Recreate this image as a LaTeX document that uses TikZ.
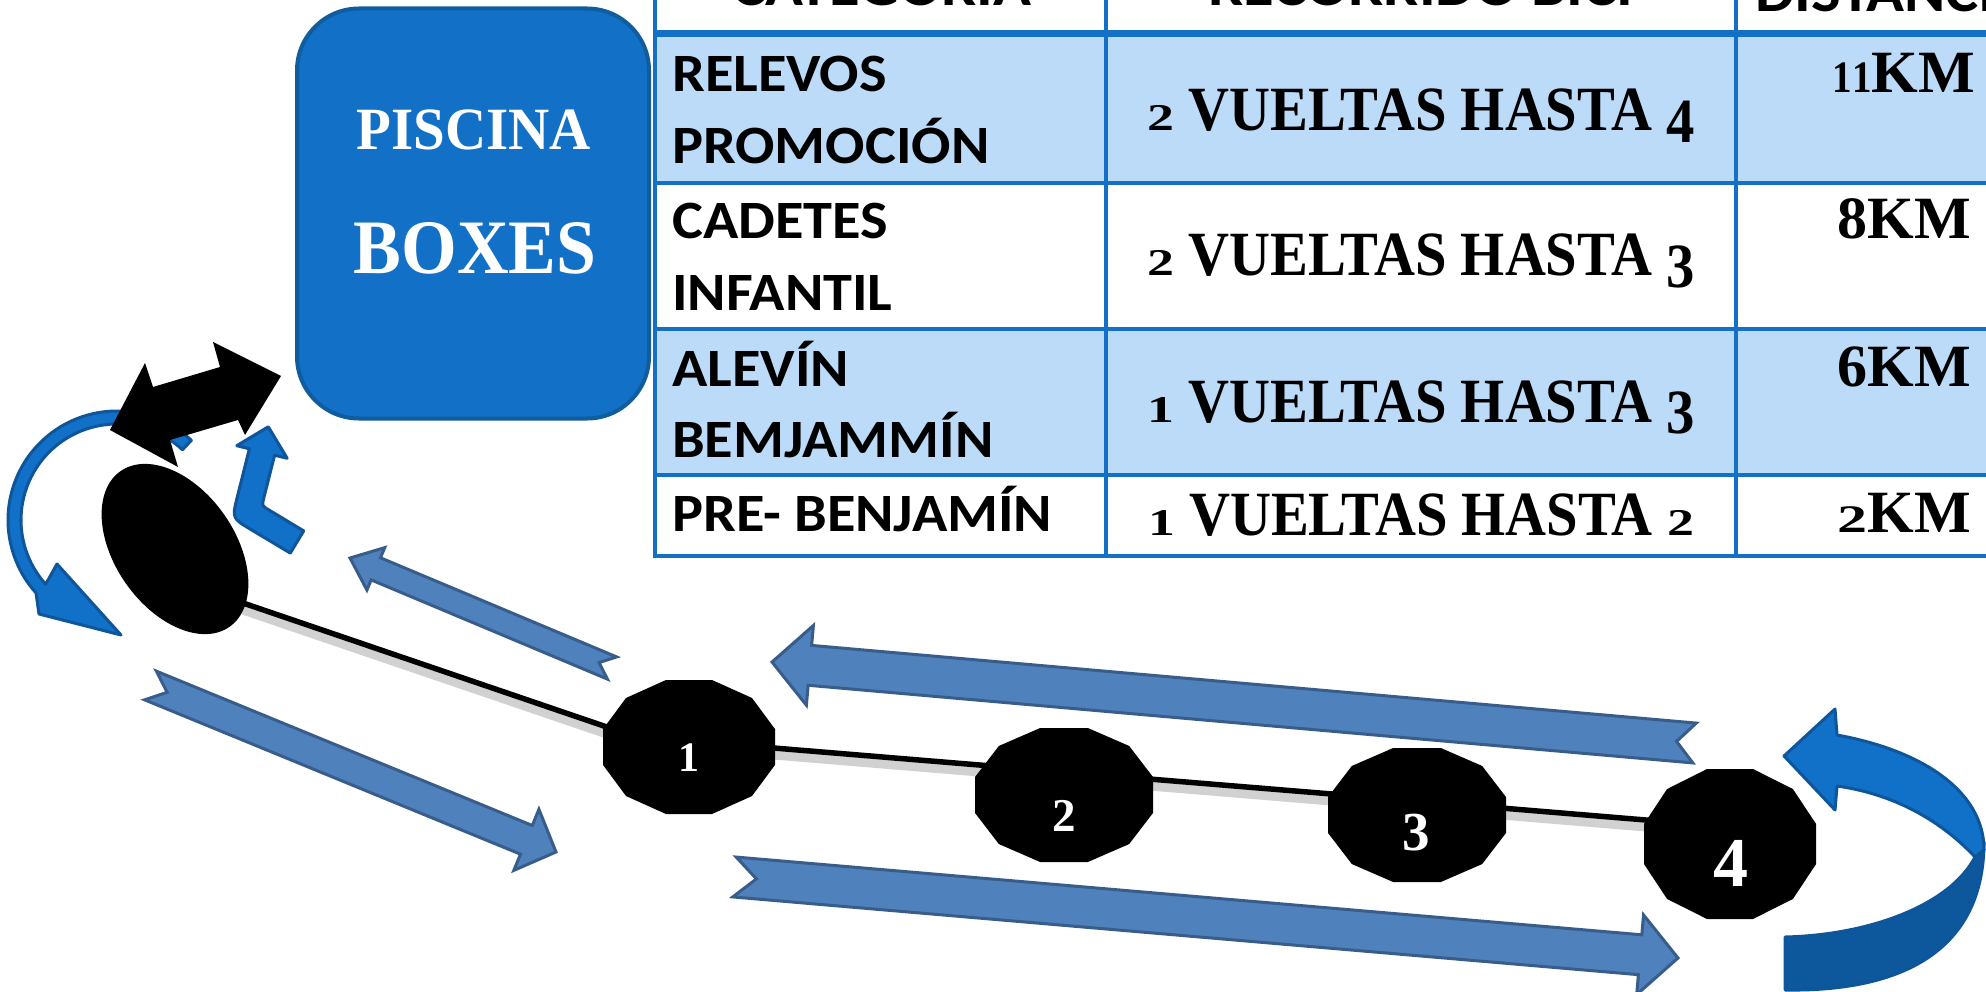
\documentclass[tikz,border=0pt]{standalone}
\usepackage{fontspec}
\usepackage{graphicx}
\usetikzlibrary{shapes.geometric}
\newfontfamily\carl{Carlito}
\newfontfamily\lser{Liberation Serif}
\definecolor{cTable}{HTML}{1370C6}
\definecolor{cLight}{HTML}{BBDBF8}
\definecolor{cBox}{HTML}{1270C6}
\definecolor{cBoxLine}{HTML}{0F5C9E}
\definecolor{cArrFill}{HTML}{4F81BD}
\definecolor{cArrLine}{HTML}{385D8A}
\definecolor{cCurve}{HTML}{1170C8}
\definecolor{cCurveLine}{HTML}{0E559A}
\definecolor{cDark}{HTML}{0D579C}
\newcommand\osm[1]{\scalebox{0.95}[0.6]{#1}}
\newcommand\osd[1]{\raisebox{-0.175em}{#1}}
\newcommand\osone{\scalebox{0.65}[0.75]{1}}
\newcommand\ostwo{\scalebox{1}[0.65]{2}}
\newcommand\catt[1]{\scalebox{1.08}[1]{#1}}
\newcommand\blockarrow[8]{%
  \pgfmathsetmacro\bdx{#3-(#1)}%
  \pgfmathsetmacro\bdy{#4-(#2)}%
  \pgfmathsetmacro\blen{veclen(\bdx,\bdy)}%
  \pgfmathsetmacro\bang{atan2(\bdy,\bdx)}%
  \pgfmathsetmacro\brot{-1*(\bang)}%
  \pgfmathsetmacro\bneck{\blen-#7}%
  \filldraw[blockarr, shift={(#1,#2)}, rotate=\brot]
    (0,#5) -- (\bneck,#5) -- (\bneck,#6) -- (\blen,0) -- (\bneck,-#6)
    -- (\bneck,-#5) -- (0,-#5) -- (#8,0) -- cycle;}
\newcommand\dodec[4]{%
  \fill[black] plot[samples at={15,45,...,345}]
    ({#1+#3/0.9659*cos(\x)},{#2+#4/0.9659*sin(\x)}) -- cycle;}
\begin{document}
\begin{tikzpicture}[x=1pt,y=-1pt,
  cattxt/.style={anchor=base west, inner sep=0pt, font=\carl\bfseries\fontsize{54}{60}\selectfont},
  hdrtxt/.style={anchor=base, inner sep=0pt, font=\carl\bfseries\fontsize{58}{64}\selectfont},
  rectxt/.style={anchor=base, inner sep=0pt, font=\lser\bfseries\fontsize{63}{70}\selectfont},
  disttxt/.style={anchor=base east, inner sep=0pt, font=\lser\bfseries\fontsize{60}{70}\selectfont},
  numtxt/.style={anchor=base, inner sep=0pt, text=white},
  tableline/.style={draw=cTable, line width=4pt},
  blockarr/.style={fill=cArrFill, draw=cArrLine, line width=3pt, line join=miter},
  curvarr/.style={fill=cCurve, draw=cCurveLine, line width=3pt, line join=round},
  connector/.style={draw=black, line width=5.5pt},
  conshadow/.style={draw=black!18, line width=9pt, transform canvas={yshift=-7pt}}
]
\useasboundingbox (0,0) rectangle (1986,992);
\clip (0,0) rectangle (1986,992);
\fill[white] (0,0) rectangle (1986,992);

% ---------- table ----------
\fill[cLight] (655,34) rectangle (1990,183);
\fill[cLight] (655,329) rectangle (1990,475);
\draw[tableline] (655,-5) -- (655,556) -- (1990,556);
\draw[tableline] (1106,-5) -- (1106,556);
\draw[tableline] (1736,-5) -- (1736,556);
\draw[tableline] (655,183) -- (1990,183);
\draw[tableline] (655,329) -- (1990,329);
\draw[tableline] (655,475) -- (1990,475);
\draw[tableline, line width=7pt] (655,34) -- (1990,34);

\node[hdrtxt] (h1) at (882,6) {\catt{CATEGORÍA}};
\node[hdrtxt] (h2) at (1421,6) {\catt{RECORRIDO BICI}};
\node[hdrtxt, anchor=base west] (h3) at (1755,12) {\catt{DISTANCIA}};

\node[cattxt] (c1a) at (672,92) {\catt{RELEVOS}};
\node[cattxt] (c1b) at (672,164) {\catt{PROMOCIÓN}};
\node[cattxt] (c2a) at (672,239) {\catt{CADETES}};
\node[cattxt] (c2b) at (672,311) {\catt{INFANTIL}};
\node[cattxt] (c3a) at (672,386) {\catt{ALEVÍN}};
\node[cattxt] (c3b) at (672,457) {\catt{BEMJAMMÍN}};
\node[cattxt] (c4a) at (672,531) {\catt{PRE- BENJAMÍN}};

\node[rectxt] (r1) at (1421,131) {\scalebox{0.9}[1]{\osm{2} VUELTAS HASTA \osd{4}}};
\node[rectxt] (r2) at (1421,276) {\scalebox{0.9}[1]{\osm{2} VUELTAS HASTA \osd{3}}};
\node[rectxt] (r3) at (1421,422) {\scalebox{0.9}[1]{\osm{1} VUELTAS HASTA \osd{3}}};
\node[rectxt] (r4) at (1421,535) {\scalebox{0.9}[1]{\osm{1} VUELTAS HASTA \osm{2}}};

\node[disttxt] (d1) at (1975,93) {\osone\osone KM};
\node[disttxt] (d2) at (1971,239) {8KM};
\node[disttxt] (d3) at (1971,386) {6KM};
\node[disttxt] (d4) at (1971,532) {\ostwo KM};

% ---------- piscina box ----------
\node[draw=cBoxLine, line width=4pt, fill=cBox, rounded corners=62pt,
      minimum width=352pt, minimum height=410pt, inner sep=0pt] (box) at (473,213.5) {};
\node[anchor=base, inner sep=0pt, text=white, font=\lser\bfseries\fontsize{60}{60}\selectfont]
  (piscina) at (474,150) {\scalebox{0.95}[1]{PISCINA}};
\node[anchor=base, inner sep=0pt, text=white, font=\lser\bfseries\fontsize{77}{77}\selectfont]
  (boxes) at (475,274) {\scalebox{0.93}[1]{BOXES}};

% ---------- track nodes and connectors ----------
\coordinate (p0) at (243,603);
\coordinate (n1in) at (689,755);
\coordinate (n1out) at (689,741);
\coordinate (n2port) at (1064,772);
\coordinate (n3port) at (1417,801);
\coordinate (n4in) at (1730,827);
\coordinate (n1) at (689,747);
\coordinate (n2) at (1064,795);
\coordinate (n3) at (1417,815);
\coordinate (n4) at (1730,844);

\draw[conshadow] (p0) -- (n1in);
\draw[conshadow] (n1out) -- (n2port) -- (n3port) -- (n4in);
\draw[connector] (p0) -- (n1in);
\draw[connector] (n1out) -- (n2port);
\draw[connector] (n2port) -- (n3port);
\draw[connector] (n3port) -- (n4in);

\node[ellipse, fill=black, minimum width=190pt, minimum height=120pt, inner sep=0pt, rotate=-55] (pool) at (175,549) {};

\dodec{689}{747}{86}{67}
\dodec{1064}{795}{89}{67}
\dodec{1417}{815}{89}{67}
\dodec{1730}{844}{86}{75}

\node[numtxt, font=\lser\bfseries\fontsize{42}{42}\selectfont] (t1) at (689,771) {1};
\node[numtxt, font=\lser\bfseries\fontsize{47}{47}\selectfont] (t2) at (1064,831) {2};
\node[numtxt, font=\lser\bfseries\fontsize{55}{55}\selectfont] (t3) at (1416,850) {3};
\node[numtxt, font=\lser\bfseries\fontsize{70}{70}\selectfont] (t4) at (1731,886) {4};

% ---------- block arrows ----------
\blockarrow{612}{668}{350}{558}{12}{23}{28}{14}
\blockarrow{150.5}{685.5}{556}{852}{15.5}{33}{32}{18}
\blockarrow{1694.5}{743}{772}{662}{20}{40}{38}{18}
\blockarrow{734.5}{877}{1678}{958}{20}{40}{38}{22}

% ---------- right U-turn arrow ----------
\filldraw[curvarr, fill=cDark] (1785,937) .. controls (1870,935) and (1950,905) .. (1975,857)
  -- (1984,842) .. controls (1984,945) and (1910,992) .. (1785,990) -- cycle;
\filldraw[curvarr] (1837,735) .. controls (1920,750) and (1984,790) .. (1984,850)
  -- (1975,857) .. controls (1945,825) and (1900,795) .. (1837,786)
  -- (1835,810) -- (1784,756) -- (1835,709) -- cycle;

% ---------- left curved arrow ----------
\filldraw[curvarr] plot[domain=-47:-222, samples=60] ({117+109*cos(\x)},{520+109*sin(\x)})
  -- (39,614) -- (121,635) -- (57,564)
  -- plot[domain=-222:-47, samples=60] ({117+96*cos(\x)},{520+96*sin(\x)}) -- cycle;

% ---------- small bent arrow ----------
\filldraw[curvarr] (303.7,530.9) -- (268.8,509.9) .. controls (261.9,505.8) .. (263.8,498.0)
  -- (274.6,455.2) -- (287.2,458.3) -- (268.3,426.8) -- (236.8,445.7) -- (249.4,448.8)
  -- (237.3,496.9) .. controls (232,518.2) .. (250.9,529.5) -- (290.3,553.1) -- cycle;

% ---------- black double arrow ----------
\fill[black] (110,430) -- (145,363) -- (153,387) -- (220,367) -- (213,342) -- (281,376)
  -- (245,435) -- (238,420) -- (170,440) -- (178,467) -- cycle;
\end{tikzpicture}
\end{document}
